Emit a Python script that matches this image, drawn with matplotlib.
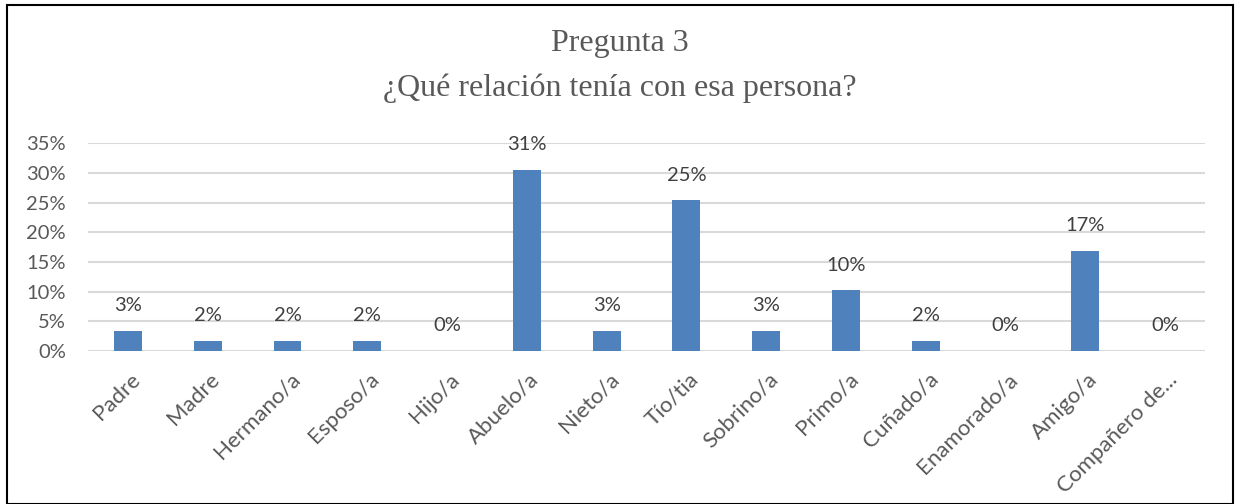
import matplotlib
matplotlib.use("Agg")
import matplotlib.pyplot as plt
import matplotlib.transforms as mtransforms
from matplotlib.patches import Rectangle
from matplotlib.ticker import PercentFormatter

categories = ["Padre", "Madre", "Hermano/a", "Esposo/a", "Hijo/a", "Abuelo/a", "Nieto/a",
              "Tío/tia", "Sobrino/a", "Primo/a", "Cuñado/a", "Enamorado/a", "Amigo/a", "Compañero de..."]
values = [3.4, 1.7, 1.7, 1.7, 0.0, 30.5, 3.4, 25.4, 3.4, 10.2, 1.7, 0.0, 16.9, 0.0]
labels = ["3%", "2%", "2%", "2%", "0%", "31%", "3%", "25%", "3%", "10%", "2%", "0%", "17%", "0%"]
yticks = [0, 5, 10, 15, 20, 25, 30, 35]

W, H = 1240, 504
FONT = "Lato"
FS = 14.5
FSX = 16
fig = plt.figure(figsize=(W / 100, H / 100), dpi=100)
ax = fig.add_axes([88 / W, 1 - 351 / H, (1205 - 88) / W, (351 - 143.3) / H])

x = list(range(len(categories)))
ax.bar(x, values, width=0.35, color="#4f81bd", zorder=3)
ax.set_xlim(-0.5, len(categories) - 0.5)
ax.set_ylim(0, 35)
ax.set_yticks(yticks)
ax.yaxis.set_major_formatter(PercentFormatter(decimals=0))
ax.grid(axis="y", color="#d9d9d9", linewidth=1.5, zorder=0)
for s in ax.spines.values():
    s.set_visible(False)
ax.tick_params(axis="both", length=0, labelsize=FS, colors="#595959")
ax.tick_params(axis="y", pad=16)
ax.tick_params(axis="x", pad=13)
ax.set_xticks(x)
ax.set_xticklabels(categories, rotation=45, ha="right", rotation_mode="anchor",
                   fontsize=FSX, color="#595959", family=FONT)
shift = mtransforms.ScaledTranslation(2 / 100, 0, fig.dpi_scale_trans)
for t in ax.get_xticklabels():
    t.set_transform(t.get_transform() + shift)
for t in ax.get_yticklabels():
    t.set_family(FONT)

for xi, v, lab in zip(x, values, labels):
    ax.annotate(lab, (xi, v), xytext=(0, 12), textcoords="offset points",
                ha="center", va="bottom", fontsize=FS, color="#404040", family=FONT)

fig.text(0.5, 1 - 44 / H, "Pregunta 3", ha="center", va="center",
         fontsize=23, color="#595959", family="Liberation Serif")
fig.text(0.5, 1 - 88 / H, "¿Qué relación tenía con esa persona?", ha="center", va="center",
         fontsize=23, color="#595959", family="Liberation Serif")

fig.patches.append(Rectangle((7 / W, 0.5 / H), 1226 / W, 499 / H, transform=fig.transFigure,
                             fill=False, edgecolor="black", linewidth=1.5))

fig.savefig("out.png", dpi=100)
